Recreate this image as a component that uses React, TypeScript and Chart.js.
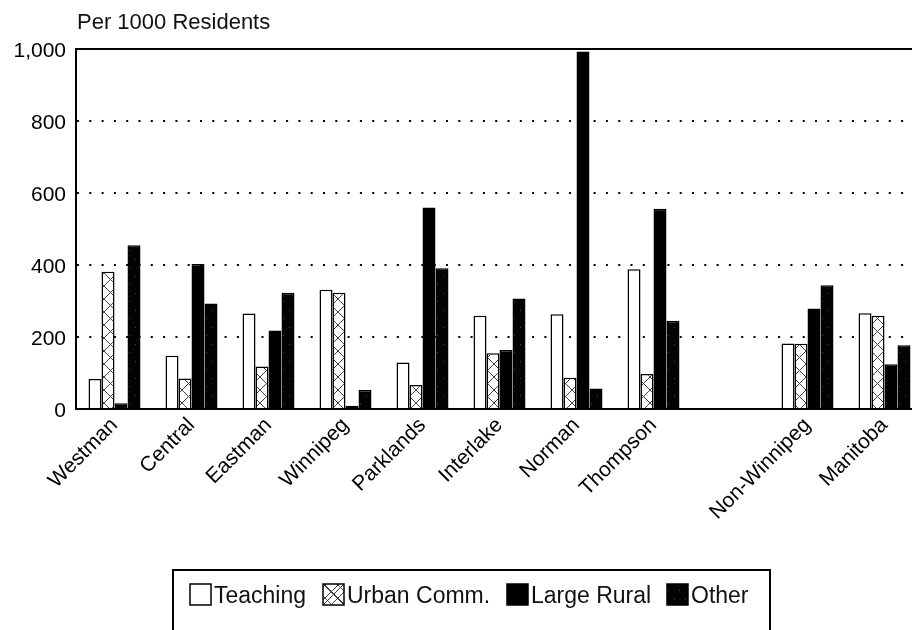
import React, { useEffect, useRef } from 'react';
import { Chart, registerables } from 'chart.js';

Chart.register(...registerables);

const categories = ['Westman', 'Central', 'Eastman', 'Winnipeg', 'Parklands', 'Interlake', 'Norman', 'Thompson', '', 'Non-Winnipeg', 'Manitoba'];
const teaching = [83, 148, 265, 331, 129, 259, 263, 388, null, 182, 266];
const urbanComm = [381, 85, 118, 323, 67, 155, 87, 97, null, 181, 259];
const largeRural = [16, 403, 218, 9, 560, 164, 993, 556, null, 279, 124];
const other = [455, 293, 323, 53, 391, 307, 57, 245, null, 344, 177];
const seriesNames = ['Teaching', 'Urban Comm.', 'Large Rural', 'Other'];
const yTicks = [0, 200, 400, 600, 800, 1000];
const yTitle = 'Per 1000 Residents';

const FONT = '"Liberation Sans", Arial, Helvetica, sans-serif';

function makeCrossPattern(): CanvasPattern | string {
  const c = document.createElement('canvas');
  c.width = 13;
  c.height = 13;
  const g = c.getContext('2d');
  if (!g) return '#fff';
  g.fillStyle = '#fff';
  g.fillRect(0, 0, 13, 13);
  g.strokeStyle = '#444';
  g.lineWidth = 1;
  g.beginPath();
  g.moveTo(0, 0);
  g.lineTo(13, 13);
  g.moveTo(13, 0);
  g.lineTo(0, 13);
  g.stroke();
  return g.createPattern(c, 'repeat') || '#fff';
}

function makeSpeckPattern(): CanvasPattern | string {
  const c = document.createElement('canvas');
  c.width = 11;
  c.height = 17;
  const g = c.getContext('2d');
  if (!g) return '#050505';
  g.fillStyle = '#030303';
  g.fillRect(0, 0, 11, 17);
  g.fillStyle = '#4a4a4a';
  g.fillRect(3, 4, 1, 1);
  g.fillRect(8, 12, 1, 1);
  return g.createPattern(c, 'repeat') || '#050505';
}

const framePlugin = {
  id: 'frameAndTitle',
  afterDatasetsDraw(chart: any) {
    const { ctx, chartArea } = chart;
    const { left, top, right, bottom } = chartArea;
    ctx.save();
    ctx.strokeStyle = '#000';
    ctx.lineWidth = 2;
    ctx.beginPath();
    ctx.moveTo(left, bottom);
    ctx.lineTo(left, top);
    ctx.lineTo(right, top);
    ctx.stroke();
    ctx.beginPath();
    ctx.moveTo(left, bottom);
    ctx.lineTo(right, bottom);
    ctx.stroke();
    ctx.restore();
  },
  afterDraw(chart: any) {
    const { ctx, chartArea } = chart;
    ctx.save();
    ctx.fillStyle = '#111';
    ctx.font = `22px ${FONT}`;
    ctx.textAlign = 'left';
    ctx.textBaseline = 'alphabetic';
    ctx.fillText(yTitle, chartArea.left + 1, chartArea.top - 20);

    ctx.strokeStyle = '#000';
    ctx.lineWidth = 2;
    ctx.beginPath();
    ctx.moveTo(173, 640);
    ctx.lineTo(173, 570);
    ctx.lineTo(770, 570);
    ctx.lineTo(770, 640);
    ctx.stroke();

    const iconX = [190, 323, 507, 667];
    const iconY = 584;
    const size = 21;
    ctx.font = `23px ${FONT}`;
    chart.data.datasets.forEach((ds: any, i: number) => {
      const x = iconX[i];
      ctx.fillStyle = ds.backgroundColor;
      ctx.fillRect(x, iconY, size, size);
      if (i === 1) {
        ctx.strokeStyle = '#333';
        ctx.lineWidth = 1;
        ctx.beginPath();
        ctx.moveTo(x, iconY);
        ctx.lineTo(x + size, iconY + size);
        ctx.moveTo(x + size, iconY);
        ctx.lineTo(x, iconY + size);
        ctx.stroke();
      }
      ctx.strokeStyle = '#000';
      ctx.lineWidth = 1.5;
      ctx.strokeRect(x, iconY, size, size);
      ctx.fillStyle = '#111';
      ctx.fillText(ds.label, x + size + 3, 603);
    });
    ctx.restore();
  },
};

export default function App() {
  const canvasRef = useRef<HTMLCanvasElement | null>(null);

  useEffect(() => {
    const canvas = canvasRef.current;
    if (!canvas) return;
    const cross = makeCrossPattern();
    const speck = makeSpeckPattern();
    const fills = ['#ffffff', cross, '#000000', speck];
    const values = [teaching, urbanComm, largeRural, other];

    const chart = new Chart(canvas, {
      type: 'bar',
      data: {
        labels: categories,
        datasets: values.map((vals, i) => ({
          label: seriesNames[i],
          data: vals,
          backgroundColor: fills[i] as any,
          borderColor: '#000',
          borderWidth: 1.5,
          barPercentage: 1.0,
          categoryPercentage: 0.675,
        })),
      },
      options: {
        responsive: false,
        animation: false,
        devicePixelRatio: 1,
        layout: { padding: { left: 0, top: 49, right: 17, bottom: 0 } },
        plugins: {
          legend: { display: false },
          tooltip: { enabled: false },
          title: { display: false },
        },
        scales: {
          x: {
            type: 'category',
            offset: true,
            grid: { display: false, drawTicks: false },
            border: { display: true, color: '#000', width: 2 },
            ticks: {
              autoSkip: false,
              minRotation: 45,
              maxRotation: 45,
              color: '#000',
              padding: 4,
              font: { family: FONT, size: 21 },
            },
            afterFit: (s: any) => {
              s.height = 630 - 409;
            },
          },
          y: {
            type: 'linear',
            min: 0,
            max: 1000,
            afterBuildTicks: (s: any) => {
              s.ticks = yTicks.map((v) => ({ value: v }));
            },
            afterFit: (s: any) => {
              s.width = 76;
            },
            grid: {
              color: (c: any) =>
                c.tick && (c.tick.value === 0 || c.tick.value === 1000) ? 'rgba(0,0,0,0)' : '#000',
              lineWidth: 2,
              drawTicks: false,
            },
            border: { display: true, color: '#000', width: 2, dash: [2, 10.3] },
            ticks: {
              color: '#000',
              padding: 10,
              labelOffset: 2,
              font: { family: FONT, size: 21 },
              callback: (v: any) => Number(v).toLocaleString('en-US'),
            },
          },
        },
      },
      plugins: [framePlugin],
    });

    return () => {
      chart.destroy();
    };
  }, []);

  return (
    <div
      style={{
        position: 'absolute',
        left: 0,
        top: 0,
        width: 912,
        height: 630,
        overflow: 'hidden',
        background: '#fff',
      }}
    >
      <canvas ref={canvasRef} width={940} height={630} style={{ display: 'block' }} />
    </div>
  );
}
